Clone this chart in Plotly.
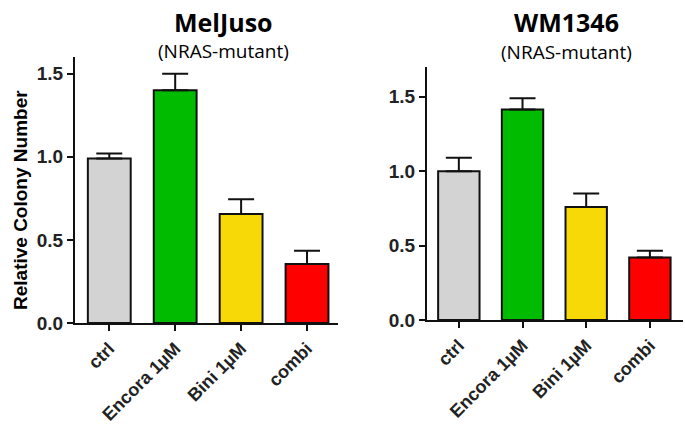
import plotly.graph_objects as go

categories = ["ctrl", "Encora 1µM", "Bini 1µM", "combi"]
colors = ["#D3D3D3", "#00BB00", "#F7D908", "#FF0000"]

meljuso_values = [0.99, 1.40, 0.655, 0.355]
meljuso_err = [0.03, 0.10, 0.09, 0.08]

wm1346_values = [1.0, 1.415, 0.76, 0.42]
wm1346_err = [0.09, 0.075, 0.09, 0.045]

W, H = 685, 433

fig = go.Figure()

def add_panel(vals, errs, xa, ya):
    fig.add_trace(go.Bar(
        x=categories, y=vals, xaxis=xa, yaxis=ya,
        marker=dict(color=colors, line=dict(color="#111111", width=2)),
        width=0.65,
        error_y=dict(type="data", array=errs, arrayminus=[0]*len(errs), symmetric=False,
                     color="#111111", thickness=2, width=13),
        showlegend=False,
    ))

add_panel(meljuso_values, meljuso_err, "x", "y")
add_panel(wm1346_values, wm1346_err, "x2", "y2")

tickfont = dict(family="Liberation Sans", size=19, color="#222222", weight="bold")
xtickfont = dict(family="Liberation Sans", size=18, color="#222222", weight="bold")

common_x = dict(type="category", showline=True, linecolor="#111111", linewidth=2,
                ticks="outside", ticklen=6, tickwidth=2, tickcolor="#111111",
                tickangle=-45, tickfont=xtickfont, showgrid=False, zeroline=False,
                automargin=False)
common_y = dict(showline=True, linecolor="#111111", linewidth=2,
                ticks="outside", ticklen=6, tickwidth=2, tickcolor="#111111",
                tickvals=[0, 0.5, 1.0, 1.5], ticktext=["0.0", "0.5", "1.0", "1.5"],
                tickfont=tickfont, showgrid=False, zeroline=False, automargin=False)

def ann(text, x, y, size, bold=False, family="Open Sans", angle=0):
    return dict(text=f"<b>{text}</b>" if bold else text, x=x / W, y=1 - y / H,
                xref="paper", yref="paper", xanchor="center", yanchor="middle",
                showarrow=False, textangle=angle,
                font=dict(family=family, size=size, color="#000000"))

fig.update_layout(
    width=W, height=H,
    template="none",
    margin=dict(l=0, r=0, t=0, b=0),
    paper_bgcolor="white", plot_bgcolor="white",
    xaxis=dict(domain=[75 / W, 338 / W], range=[-0.52, 3.47], anchor="y", **common_x),
    yaxis=dict(domain=[1 - 323 / H, 1 - 57 / H], range=[0, 1.6], anchor="x", **common_y),
    xaxis2=dict(domain=[427 / W, 683 / W], range=[-0.5, 3.52], anchor="y2", **common_x),
    yaxis2=dict(domain=[1 - 320 / H, 1 - 67 / H], range=[0, 1.7], anchor="x2", **common_y),
    annotations=[
        ann("MelJuso", 223, 22, 25, bold=True),
        ann("(NRAS-mutant)", 223, 51, 19),
        ann("WM1346", 566, 22, 25, bold=True),
        ann("(NRAS-mutant)", 566, 52, 19),
        ann("Relative Colony Number", 21, 200, 19, bold=True, family="Liberation Sans", angle=-90),
    ],
)

fig.write_html("out.html",
               config={"displayModeBar": False},
               post_script="document.body.style.margin='0px';document.body.style.overflow='hidden';")
